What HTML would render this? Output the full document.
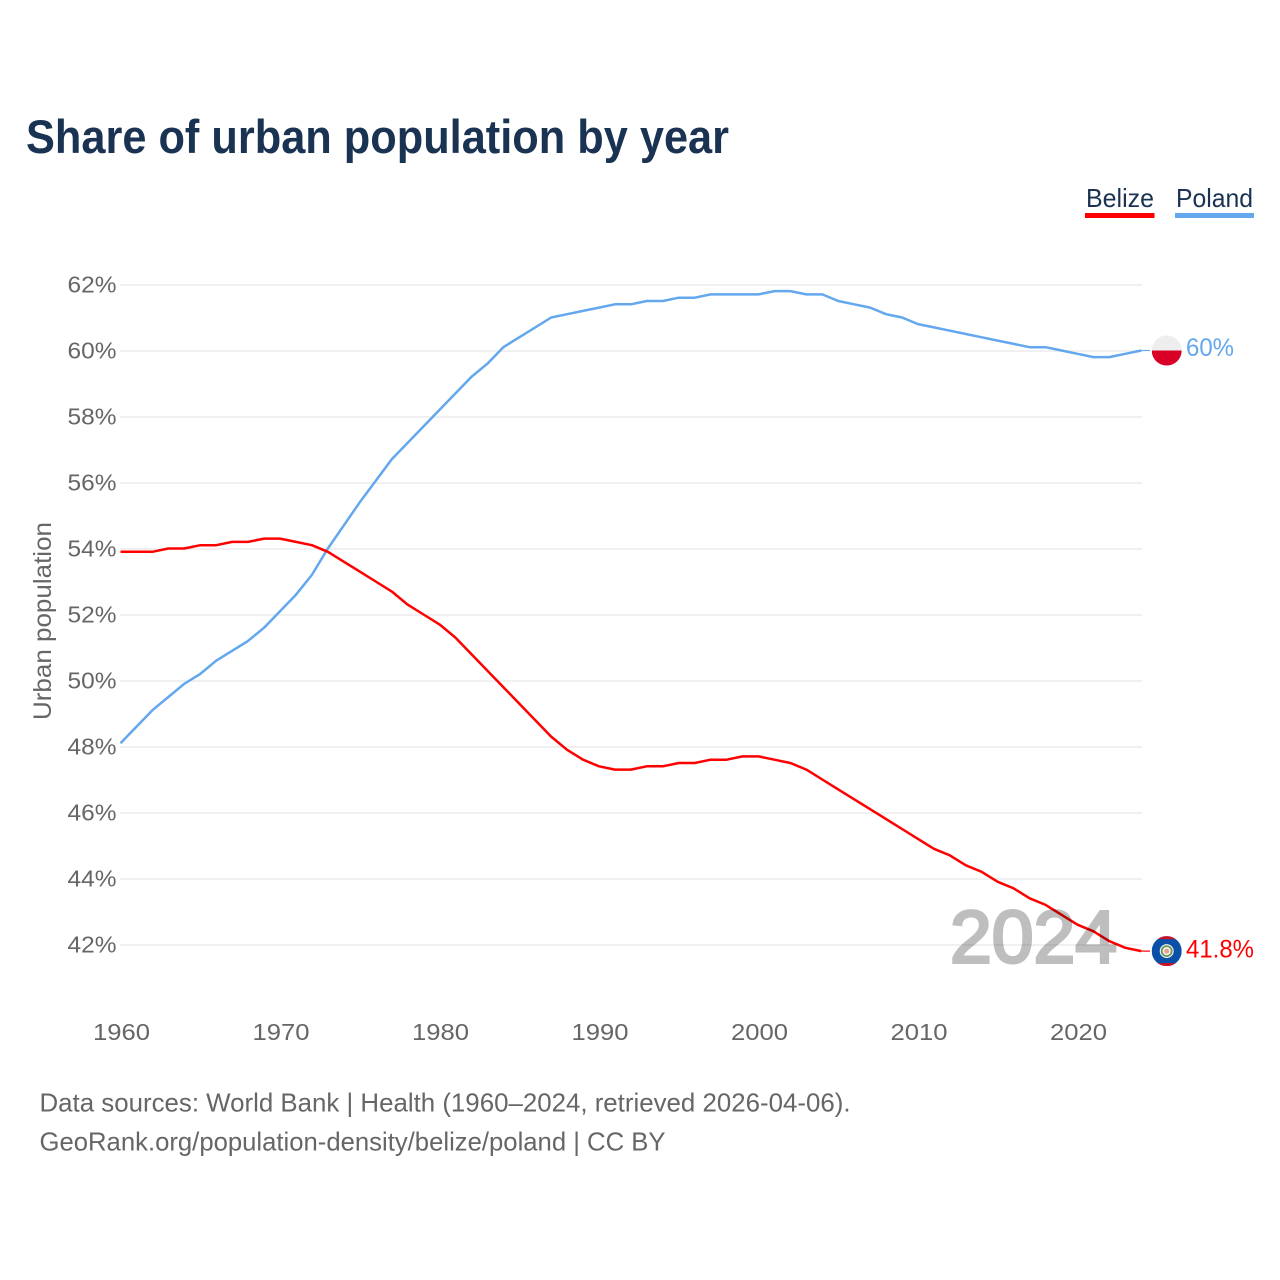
<!DOCTYPE html>
<html lang="en">
<head>
<meta charset="utf-8">
<title>Share of urban population by year</title>
<style>
html,body{margin:0;padding:0;background:#fff;width:1280px;height:1280px;overflow:hidden}
svg{display:block}
text{font-family:"Liberation Sans",sans-serif}
</style>
</head>
<body>
<svg id="chart" xmlns="http://www.w3.org/2000/svg" width="1280" height="1280" viewBox="0 0 1280 1280">
  <defs>
    <clipPath id="clip-pl"><circle cx="0" cy="0" r="15"/></clipPath>
    <clipPath id="clip-bz"><circle cx="0" cy="0" r="15"/></clipPath>
  </defs>
  <text x="26" y="153" font-size="47" font-weight="700" fill="#1a3353" textLength="703" lengthAdjust="spacingAndGlyphs">Share of urban population by year</text>

  <g>
    <text x="1086" y="207" font-size="26" fill="#1a3353" textLength="68" lengthAdjust="spacingAndGlyphs">Belize</text>
    <rect x="1085" y="213" width="69.5" height="5" fill="#ff0000"/>
  </g>
  <g>
    <text x="1176" y="207" font-size="26" fill="#1a3353" textLength="77" lengthAdjust="spacingAndGlyphs">Poland</text>
    <rect x="1175" y="213" width="79" height="5" fill="#63a7ee"/>
  </g>

  <g id="grid"></g>
  <g id="yticks"></g>
  <g id="xticks"></g>

  <text transform="translate(51,621) rotate(-90)" text-anchor="middle" font-size="25" fill="#666666" textLength="198" lengthAdjust="spacingAndGlyphs">Urban population</text>

  <g id="series"></g>

  <text x="950" y="962.5" font-size="74" font-weight="400" fill="#000000" stroke="#000000" stroke-width="3" opacity="0.25" textLength="167" lengthAdjust="spacingAndGlyphs">2024</text>

  <g id="flag-poland">
    <g clip-path="url(#clip-pl)">
      <rect x="-15" y="-15" width="30" height="15" fill="#eeeeee"/>
      <rect x="-15" y="0" width="30" height="15" fill="#d80027"/>
    </g>
  </g>
  <g id="flag-belize">
    <g clip-path="url(#clip-bz)">
      <rect x="-15" y="-15" width="30" height="30" fill="#0a4fa8"/>
      <rect x="-15" y="-15" width="30" height="3" fill="#ce1126"/>
      <rect x="-15" y="12" width="30" height="3" fill="#ce1126"/>
      <circle r="7" fill="#f2f2f2"/>
      <circle r="5" fill="none" stroke="#6a9a5b" stroke-width="1.8"/>
      <circle r="2.5" fill="#e8a08c"/>
    </g>
  </g>

  <text x="39.5" y="1111.5" font-size="26" fill="#666666" textLength="811" lengthAdjust="spacingAndGlyphs">Data sources: World Bank | Health (1960–2024, retrieved 2026-04-06).</text>
  <text x="39.5" y="1150.5" font-size="26" fill="#666666" textLength="626" lengthAdjust="spacingAndGlyphs">GeoRank.org/population-density/belize/poland | CC BY</text>
</svg>
<script>
const startYear = 1960;
const belizeValues = [53.9,53.9,53.9,54.0,54.0,54.1,54.1,54.2,54.2,54.3,54.3,54.2,54.1,53.9,53.6,53.3,53.0,52.7,52.3,52.0,51.7,51.3,50.8,50.3,49.8,49.3,48.8,48.3,47.9,47.6,47.4,47.3,47.3,47.4,47.4,47.5,47.5,47.6,47.6,47.7,47.7,47.6,47.5,47.3,47.0,46.7,46.4,46.1,45.8,45.5,45.2,44.9,44.7,44.4,44.2,43.9,43.7,43.4,43.2,42.9,42.6,42.4,42.1,41.9,41.8];
const polandValues = [48.1,48.6,49.1,49.5,49.9,50.2,50.6,50.9,51.2,51.6,52.1,52.6,53.2,54.0,54.7,55.4,56.05,56.7,57.2,57.7,58.2,58.7,59.2,59.6,60.1,60.4,60.7,61.0,61.1,61.2,61.3,61.4,61.4,61.5,61.5,61.6,61.6,61.7,61.7,61.7,61.7,61.8,61.8,61.7,61.7,61.5,61.4,61.3,61.1,61.0,60.8,60.7,60.6,60.5,60.4,60.3,60.2,60.1,60.1,60.0,59.9,59.8,59.8,59.9,60.0];
const yTickValues = [42,44,46,48,50,52,54,56,58,60,62];
const xTickYears = [1960,1970,1980,1990,2000,2010,2020];
const belizeLabel = "41.8%";
const polandLabel = "60%";

const NS = "http://www.w3.org/2000/svg";
function xScale(year){ return 120.5 + (year - 1960) * 15.95; }
function yScale(v){ return 944.5 - (v - 42) * 33; }
function mk(tag, attrs, parent, txt){
  const el = document.createElementNS(NS, tag);
  for (const k in attrs) el.setAttribute(k, attrs[k]);
  if (txt !== undefined) el.textContent = txt;
  parent.appendChild(el);
  return el;
}
const grid = document.getElementById("grid");
const yt = document.getElementById("yticks");
const xt = document.getElementById("xticks");
const series = document.getElementById("series");

yTickValues.forEach(function(v){
  const line = mk("line", {x1:120, x2:1142, y1:yScale(v)+0.5, y2:yScale(v)+0.5, stroke:"#ececec", "stroke-width":1.5}, grid);
  
  
  const label = mk("text", {x:116.5, y:yScale(v)+8, "text-anchor":"end", "font-size":23.5, fill:"#666666", textLength:49, lengthAdjust:"spacingAndGlyphs"}, yt, v + "%");
  
  
});
xTickYears.forEach(function(y){
  const label = mk("text", {x:xScale(y)+1, y:1040, "text-anchor":"middle", "font-size":23.5, fill:"#666666", textLength:57, lengthAdjust:"spacingAndGlyphs"}, xt, String(y));
  
  
});

function pathFor(values){
  return values.map(function(v,i){
    return (i ? "L" : "M") + xScale(startYear + i).toFixed(2) + " " + yScale(v).toFixed(2);
  }).join(" ");
}
const polandPath = mk("path", {d:pathFor(polandValues), fill:"none", stroke:"#63a7ee", "stroke-width":2.5, "stroke-linejoin":"round"}, series);


const belizePath = mk("path", {d:pathFor(belizeValues), fill:"none", stroke:"#ff0000", "stroke-width":2.5, "stroke-linejoin":"round"}, series);



const lastIdx = polandValues.length - 1;
const lastX = xScale(startYear + lastIdx);
const plY = yScale(polandValues[polandValues.length - 1]);
const bzY = yScale(belizeValues[belizeValues.length - 1]);

const plConn = mk("line", {x1:lastX, x2:1150, y1:plY, y2:plY, stroke:"#63a7ee", "stroke-width":1.2}, series);


const bzConn = mk("line", {x1:lastX, x2:1150, y1:bzY, y2:bzY, stroke:"#ff0000", "stroke-width":1.2}, series);



document.getElementById("flag-poland").setAttribute("transform", "translate(1166.7," + plY + ")");
document.getElementById("flag-belize").setAttribute("transform", "translate(1166.7," + bzY + ")");

const svg = document.getElementById("chart");
const plText = mk("text", {x:1186, y:plY + 5.5, "font-size":25, fill:"#63a7ee", textLength:48, lengthAdjust:"spacingAndGlyphs"}, svg, polandLabel);


const bzText = mk("text", {x:1186, y:bzY + 6.5, "font-size":25, fill:"#ff0000", textLength:68, lengthAdjust:"spacingAndGlyphs"}, svg, belizeLabel);


</script>
</body>
</html>
